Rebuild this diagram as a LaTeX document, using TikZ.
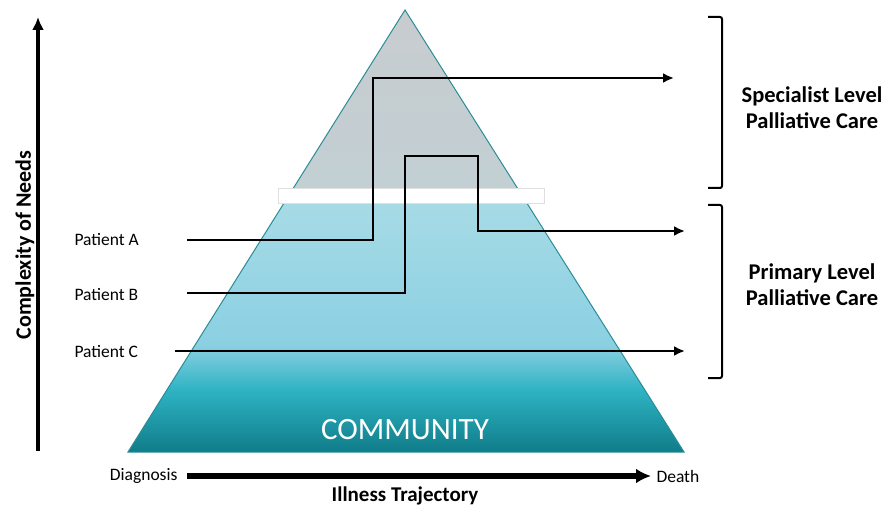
\documentclass[tikz,border=0pt]{standalone}
\usepackage{fontspec}
\setmainfont{Carlito}
\usetikzlibrary{arrows.meta,positioning}

\definecolor{pyrgray}{HTML}{C8CCCF}
\definecolor{pyrlight}{HTML}{A9DCE6}
\definecolor{pyrmid}{HTML}{8BD0E2}
\definecolor{pyrteal}{HTML}{2EB3C3}
\definecolor{pyrdark}{HTML}{107C89}
\definecolor{pyredge}{HTML}{2A8C97}

\begin{document}
\begin{tikzpicture}[x=1pt,y=-1pt,
  patient/.style={font=\fontsize{17.5}{20}\selectfont},
  level/.style={font=\fontsize{22.5}{26}\selectfont\bfseries,align=center},
  route/.style={-{Latex[length=11pt,width=10pt]},line width=2.8pt},
  bracket/.style={line width=2pt,rounded corners=2pt}]
\useasboundingbox (0,0) rectangle (885,510);

% pyramid
\coordinate (apex) at (405,10);
\coordinate (baseL) at (128,452);
\coordinate (baseR) at (684,452);
\begin{scope}
\clip (apex) -- (baseR) -- (baseL) -- cycle;
\shade[top color=pyrgray, bottom color=pyrgray!80!pyrlight] (128,10) rectangle (684,190);
\shade[top color=pyrlight, bottom color=pyrmid] (128,190) rectangle (684,345);
\shade[top color=pyrmid, bottom color=pyrteal] (128,345) rectangle (684,390);
\shade[top color=pyrteal, bottom color=pyrdark] (128,390) rectangle (684,452);
\end{scope}
\draw[pyredge,line width=1pt] (apex) -- (baseR) -- (baseL) -- cycle;
\node[draw=gray!25, fill=white, inner sep=0, minimum width=266pt, minimum height=15pt] (band) at (411,195.5) {};
\node[text=white, font=\fontsize{31}{34}\selectfont] (community) at (405,430) {COMMUNITY};

% patients
\node[patient, anchor=west] (patA) at (71,240) {Patient A};
\node[patient, anchor=west] (patB) at (71,295) {Patient B};
\node[patient, anchor=west] (patC) at (71,352) {Patient C};
\coordinate (aStart) at (187,240);
\coordinate (aUp) at (373,78);
\coordinate (aEnd) at (674,78);
\coordinate (bStart) at (187,293);
\coordinate (bUp) at (405,156);
\coordinate (bDown) at (478,231);
\coordinate (bEnd) at (685,231);
\coordinate (cStart) at (175,351);
\coordinate (cEnd) at (685,351);
\draw[route] (aStart) -| (aUp) -- (aEnd);
\draw[route] (bStart) -| (bUp) -| (bDown) -- (bEnd);
\draw[route] (cStart) -- (cEnd);

% levels
\draw[bracket] (708,17) -- (722,17) -- (722,188) -- (708,188);
\draw[bracket] (708,205) -- (722,205) -- (722,378) -- (708,378);
\node[level] (special) at (812,108) {Specialist Level\\Palliative Care};
\node[level] (primary) at (812,285) {Primary Level\\Palliative Care};

% axes
\coordinate (axisLow) at (38,451);
\coordinate (axisTop) at (38,17);
\draw[-{Latex[length=13pt,width=12pt]},line width=4pt] (axisLow) -- (axisTop);
\node[level, font=\fontsize{22}{26}\selectfont\bfseries, rotate=90] (needs) at (25,245) {Complexity of Needs};
\node[patient, anchor=east] (diag) at (181,476) {Diagnosis};
\node[patient, anchor=west] (death) at (653,476) {Death};
\draw[-{Latex[length=15pt,width=15pt]},line width=5.5pt] ([xshift=6pt]diag.east) -- ([xshift=-2pt]death.west);
\node[level, font=\fontsize{21}{24}\selectfont\bfseries] (illness) at (405,496) {Illness Trajectory};

\end{tikzpicture}
\end{document}
